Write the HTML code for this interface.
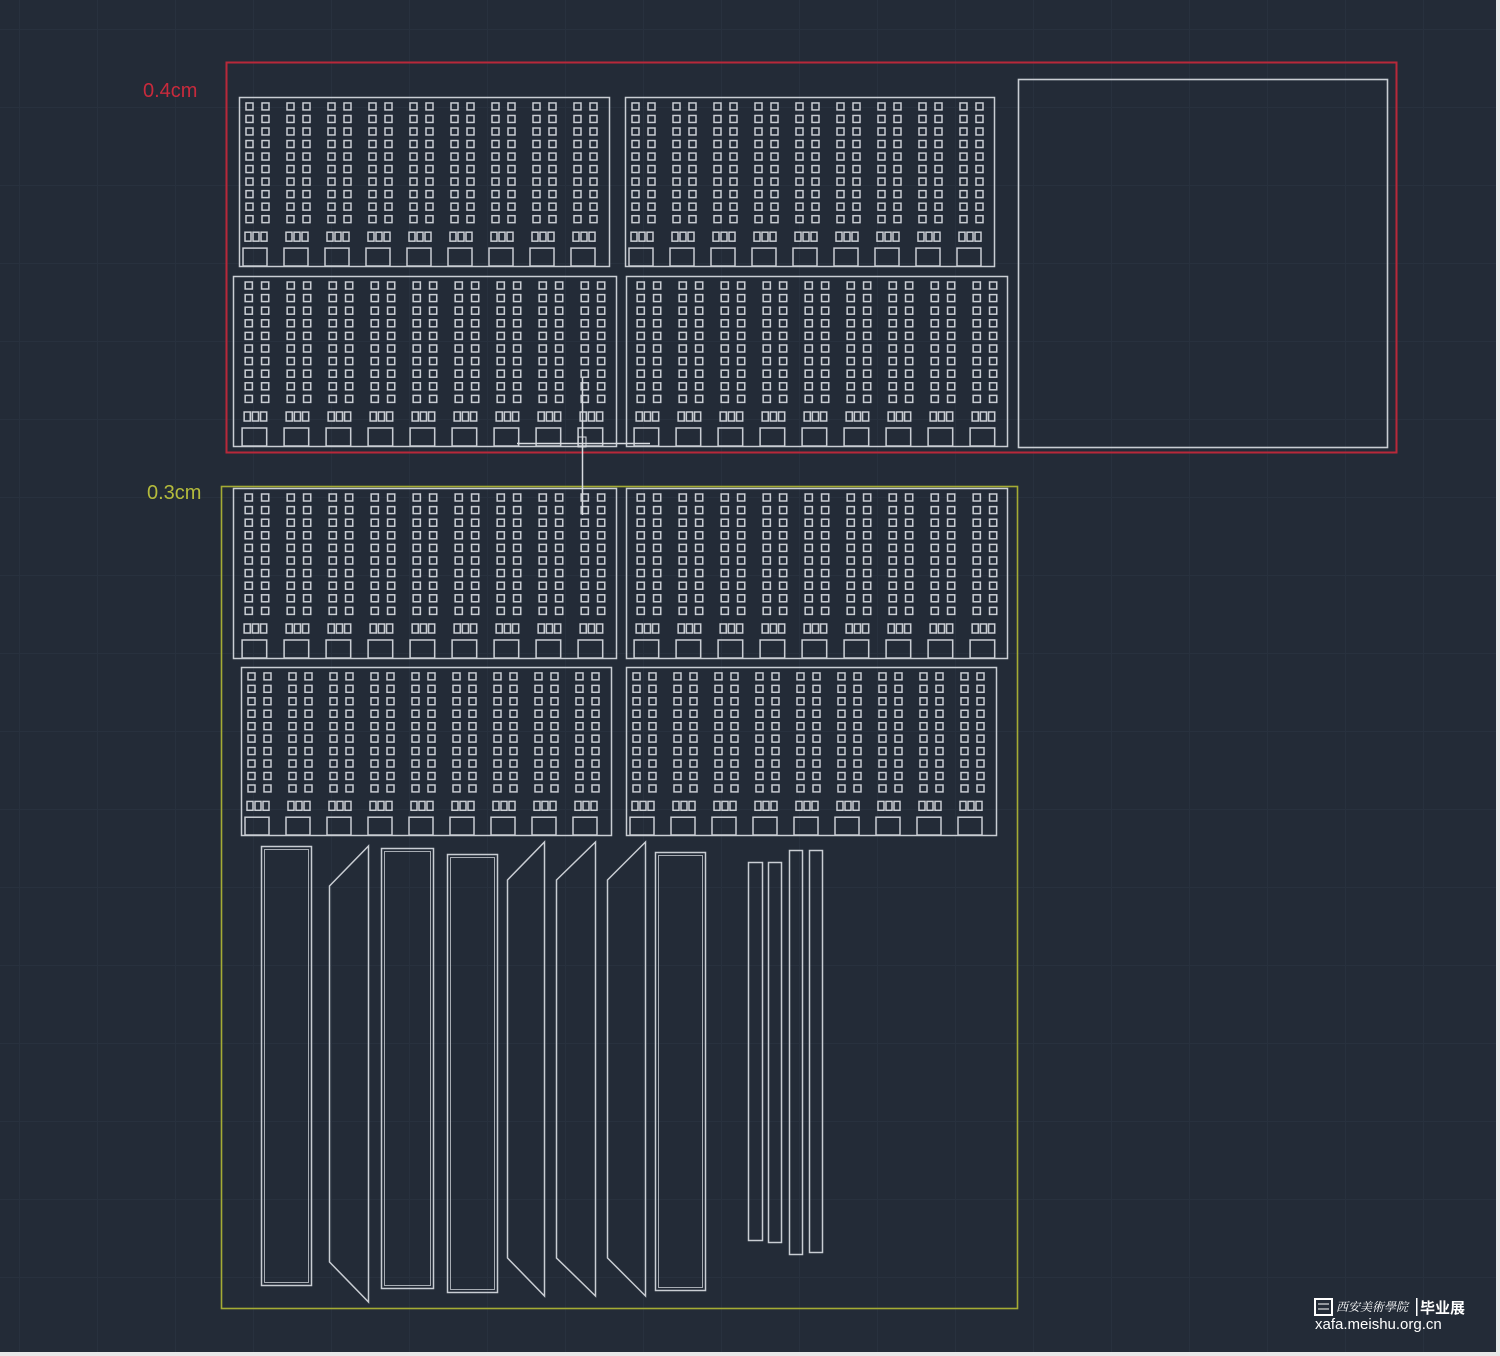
<!DOCTYPE html>
<html><head><meta charset="utf-8"><style>
html,body{margin:0;padding:0;background:#232b37;}
svg{display:block}
</style></head><body>
<svg width="1500" height="1356" viewBox="0 0 1500 1356" xmlns="http://www.w3.org/2000/svg">
<defs>
<pattern id="grid" width="78" height="78" patternUnits="userSpaceOnUse" x="20" y="30">
<path d="M78 0V78M0 78H78" stroke="#28313e" stroke-width="2" fill="none"/>
</pattern>
<symbol id="bay" viewBox="0 0 41 170" preserveAspectRatio="none">
<g fill="none" stroke="#c9cdd3" stroke-width="1.5">
<rect x="7" y="6" width="7" height="7"/><rect x="23" y="6" width="7" height="7"/>
<rect x="7" y="18.6" width="7" height="7"/><rect x="23" y="18.6" width="7" height="7"/>
<rect x="7" y="31.2" width="7" height="7"/><rect x="23" y="31.2" width="7" height="7"/>
<rect x="7" y="43.8" width="7" height="7"/><rect x="23" y="43.8" width="7" height="7"/>
<rect x="7" y="56.4" width="7" height="7"/><rect x="23" y="56.4" width="7" height="7"/>
<rect x="7" y="69" width="7" height="7"/><rect x="23" y="69" width="7" height="7"/>
<rect x="7" y="81.6" width="7" height="7"/><rect x="23" y="81.6" width="7" height="7"/>
<rect x="7" y="94.2" width="7" height="7"/><rect x="23" y="94.2" width="7" height="7"/>
<rect x="7" y="106.8" width="7" height="7"/><rect x="23" y="106.8" width="7" height="7"/>
<rect x="7" y="119.4" width="7" height="7"/><rect x="23" y="119.4" width="7" height="7"/>
<rect x="6" y="136" width="6" height="9"/><rect x="14" y="136" width="6" height="9"/><rect x="22" y="136" width="6" height="9"/>
<rect x="4" y="152" width="24" height="18"/>
</g>
</symbol>
</defs>
<rect width="1500" height="1356" fill="#232b37"/>
<rect width="1500" height="1356" fill="url(#grid)"/>
<rect x="1496" y="0" width="4" height="1356" fill="#e8e8e8"/>
<rect x="0" y="1352" width="1500" height="4" fill="#e8e8e8"/>

<text x="143" y="97" fill="#c82a3c" font-family="Liberation Sans, sans-serif" font-size="20">0.4cm</text>
<text x="147" y="499" fill="#b4bb3c" font-family="Liberation Sans, sans-serif" font-size="20">0.3cm</text>

<rect x="226.5" y="62.5" width="1170" height="390" fill="none" stroke="#b8283a" stroke-width="2"/>
<rect x="221.5" y="486.5" width="796" height="822" fill="none" stroke="#a4ab34" stroke-width="1.6"/>
<rect x="1018.5" y="79.5" width="369" height="368" fill="none" stroke="#c9cdd3" stroke-width="1.6"/>

<g fill="none" stroke="#c9cdd3" stroke-width="1.5">
<rect x="239.5" y="97.5" width="370" height="169"/>
<rect x="625.5" y="97.5" width="369" height="169"/>
<rect x="233.5" y="276.5" width="383" height="170"/>
<rect x="626.5" y="276.5" width="381" height="170"/>
<rect x="233.5" y="488.5" width="383" height="170"/>
<rect x="626.5" y="488.5" width="381" height="170"/>
<rect x="241.5" y="667.5" width="370" height="168"/>
<rect x="626.5" y="667.5" width="370" height="168"/>
</g>

<g>
<use href="#bay" x="239" y="97" width="41" height="169"/><use href="#bay" x="280" y="97" width="41" height="169"/><use href="#bay" x="321" y="97" width="41" height="169"/><use href="#bay" x="362" y="97" width="41" height="169"/><use href="#bay" x="403" y="97" width="41" height="169"/><use href="#bay" x="444" y="97" width="41" height="169"/><use href="#bay" x="485" y="97" width="41" height="169"/><use href="#bay" x="526" y="97" width="41" height="169"/><use href="#bay" x="567" y="97" width="41" height="169"/>
<use href="#bay" x="625" y="97" width="41" height="169"/><use href="#bay" x="666" y="97" width="41" height="169"/><use href="#bay" x="707" y="97" width="41" height="169"/><use href="#bay" x="748" y="97" width="41" height="169"/><use href="#bay" x="789" y="97" width="41" height="169"/><use href="#bay" x="830" y="97" width="41" height="169"/><use href="#bay" x="871" y="97" width="41" height="169"/><use href="#bay" x="912" y="97" width="41" height="169"/><use href="#bay" x="953" y="97" width="41" height="169"/>
<use href="#bay" x="238" y="276" width="42" height="170"/><use href="#bay" x="280" y="276" width="42" height="170"/><use href="#bay" x="322" y="276" width="42" height="170"/><use href="#bay" x="364" y="276" width="42" height="170"/><use href="#bay" x="406" y="276" width="42" height="170"/><use href="#bay" x="448" y="276" width="42" height="170"/><use href="#bay" x="490" y="276" width="42" height="170"/><use href="#bay" x="532" y="276" width="42" height="170"/><use href="#bay" x="574" y="276" width="42" height="170"/>
<use href="#bay" x="630" y="276" width="42" height="170"/><use href="#bay" x="672" y="276" width="42" height="170"/><use href="#bay" x="714" y="276" width="42" height="170"/><use href="#bay" x="756" y="276" width="42" height="170"/><use href="#bay" x="798" y="276" width="42" height="170"/><use href="#bay" x="840" y="276" width="42" height="170"/><use href="#bay" x="882" y="276" width="42" height="170"/><use href="#bay" x="924" y="276" width="42" height="170"/><use href="#bay" x="966" y="276" width="42" height="170"/>
<use href="#bay" x="238" y="488" width="42" height="170"/><use href="#bay" x="280" y="488" width="42" height="170"/><use href="#bay" x="322" y="488" width="42" height="170"/><use href="#bay" x="364" y="488" width="42" height="170"/><use href="#bay" x="406" y="488" width="42" height="170"/><use href="#bay" x="448" y="488" width="42" height="170"/><use href="#bay" x="490" y="488" width="42" height="170"/><use href="#bay" x="532" y="488" width="42" height="170"/><use href="#bay" x="574" y="488" width="42" height="170"/>
<use href="#bay" x="630" y="488" width="42" height="170"/><use href="#bay" x="672" y="488" width="42" height="170"/><use href="#bay" x="714" y="488" width="42" height="170"/><use href="#bay" x="756" y="488" width="42" height="170"/><use href="#bay" x="798" y="488" width="42" height="170"/><use href="#bay" x="840" y="488" width="42" height="170"/><use href="#bay" x="882" y="488" width="42" height="170"/><use href="#bay" x="924" y="488" width="42" height="170"/><use href="#bay" x="966" y="488" width="42" height="170"/>
<use href="#bay" x="241" y="667" width="41" height="168"/><use href="#bay" x="282" y="667" width="41" height="168"/><use href="#bay" x="323" y="667" width="41" height="168"/><use href="#bay" x="364" y="667" width="41" height="168"/><use href="#bay" x="405" y="667" width="41" height="168"/><use href="#bay" x="446" y="667" width="41" height="168"/><use href="#bay" x="487" y="667" width="41" height="168"/><use href="#bay" x="528" y="667" width="41" height="168"/><use href="#bay" x="569" y="667" width="41" height="168"/>
<use href="#bay" x="626" y="667" width="41" height="168"/><use href="#bay" x="667" y="667" width="41" height="168"/><use href="#bay" x="708" y="667" width="41" height="168"/><use href="#bay" x="749" y="667" width="41" height="168"/><use href="#bay" x="790" y="667" width="41" height="168"/><use href="#bay" x="831" y="667" width="41" height="168"/><use href="#bay" x="872" y="667" width="41" height="168"/><use href="#bay" x="913" y="667" width="41" height="168"/><use href="#bay" x="954" y="667" width="41" height="168"/>
</g>

<g stroke="#d8dbe0" stroke-width="1.5" fill="none">
<line x1="582.5" y1="378" x2="582.5" y2="515"/>
<line x1="517" y1="443.5" x2="650" y2="443.5"/>
<rect x="578" y="437" width="8" height="10" stroke-width="1"/>
</g>

<g fill="none" stroke="#c9cdd3" stroke-width="1.5">
<rect x="261.5" y="846.5" width="50" height="439"/><rect x="264.5" y="849.5" width="44" height="433" stroke-width="0.8"/>
<polygon points="329.5,886 368.5,846 368.5,1302 329.5,1262"/>
<rect x="381.5" y="848.5" width="52" height="440"/><rect x="384.5" y="851.5" width="46" height="434" stroke-width="0.8"/>
<rect x="447.5" y="854.5" width="50" height="438"/><rect x="450.5" y="857.5" width="44" height="432" stroke-width="0.8"/>
<polygon points="507.5,880 544.5,842 544.5,1296 507.5,1258"/>
<polygon points="556.5,880 595.5,842 595.5,1296 556.5,1258"/>
<polygon points="607.5,880 645.5,842 645.5,1296 607.5,1258"/>
<rect x="655.5" y="852.5" width="50" height="438"/><rect x="658.5" y="855.5" width="44" height="432" stroke-width="0.8"/>
<rect x="748.5" y="862.5" width="14" height="378"/>
<rect x="768.5" y="862.5" width="13" height="380"/>
<rect x="789.5" y="850.5" width="13" height="404"/>
<rect x="809.5" y="850.5" width="13" height="402"/>
</g>

<g fill="#ffffff" font-family="Liberation Sans, 'Noto Sans CJK SC', sans-serif">
<rect x="1315" y="1299" width="17" height="16" fill="none" stroke="#fff" stroke-width="2"/>
<line x1="1318" y1="1304" x2="1329" y2="1304" stroke="#fff"/><line x1="1318" y1="1309" x2="1329" y2="1309" stroke="#fff"/>
<text x="1336" y="1311" font-size="12" font-family="'Noto Serif CJK SC', serif" font-style="italic">西安美術學院</text>
<rect x="1416" y="1298" width="1.5" height="18"/>
<text x="1420" y="1313" font-size="15" font-weight="bold" font-family="'Noto Sans CJK SC', sans-serif">毕业展</text>
<text x="1315" y="1329" font-size="15">xafa.meishu.org.cn</text>
</g>
</svg>
</body></html>
